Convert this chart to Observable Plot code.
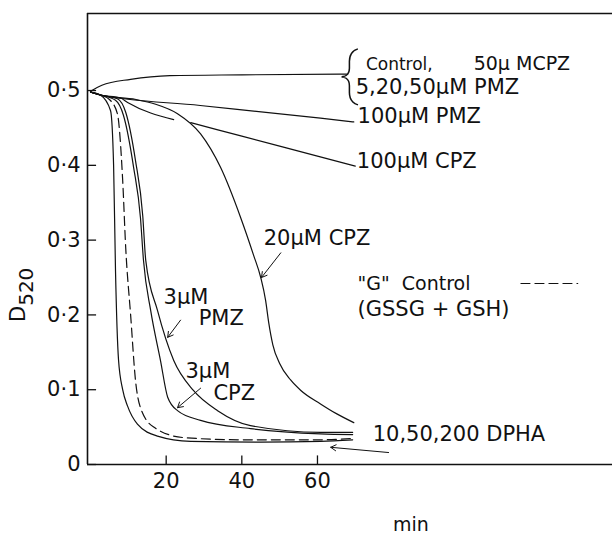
<!DOCTYPE html>
<html>
<head>
<meta charset="utf-8">
<script src="https://cdn.jsdelivr.net/npm/d3@7"></script>
<script src="https://cdn.jsdelivr.net/npm/@observablehq/plot@0.6"></script>
<style>
  html, body { margin: 0; padding: 0; background: #fff; }
</style>
</head>
<body>
<div id="chart"></div>
<script>
// ---- tick values / labels ----
const xTicks = [20, 40, 60];
const yTicks = [0, 0.1, 0.2, 0.3, 0.4, 0.5];
const yTickLabels = ["0", "0·1", "0·2", "0·3", "0·4", "0·5"];

// ---- series (time in min, D520) ----
const controlMCPZ = [[0,0.499],[3,0.507],[10.6,0.515],[21,0.52],[40,0.521],[68,0.522]];
const pmz100 = [[0,0.498],[2.6,0.494],[29,0.48],[60.8,0.463],[69.6,0.458]];
const cpz100a = [[0,0.498],[2.6,0.494],[7.9,0.49],[9.8,0.484],[22,0.461]];
const cpz100b = [[26.5,0.457],[40,0.439],[61,0.411],[70,0.399]];
const cpz20 = [[0,0.498],[2.6,0.494],[12,0.488],[17,0.482],[23,0.469],[29.1,0.442],[34.4,0.397],[39.7,0.33],[43.1,0.28],[45,0.25],[46.3,0.219],[47.1,0.19],[48.2,0.16],[50,0.135],[52.9,0.113],[55.6,0.099],[60.8,0.081],[65,0.068],[69.6,0.056]];
const pmz3 = [[0,0.498],[2.6,0.494],[7.1,0.489],[9.3,0.471],[11.9,0.406],[13.8,0.333],[14.6,0.273],[17.7,0.206],[22,0.139],[27.2,0.099],[33.6,0.072],[42.3,0.052],[60.8,0.043],[69.3,0.043]];
const cpz3 = [[0,0.498],[2.6,0.494],[6.6,0.487],[8.7,0.467],[11.4,0.397],[13.2,0.33],[14,0.273],[15.9,0.206],[18.5,0.139],[20.4,0.09],[23,0.072],[29.1,0.059],[42.3,0.048],[60.8,0.041],[69.3,0.04]];
const gControl = [[0,0.498],[2.6,0.494],[5,0.488],[7.1,0.469],[8.5,0.38],[9.3,0.29],[10.6,0.2],[11.9,0.112],[13.2,0.076],[16.7,0.05],[24.6,0.036],[40,0.033],[60.8,0.033],[69.3,0.035]];
const dpha = [[0,0.498],[2.6,0.494],[5.3,0.473],[6.1,0.4],[6.6,0.26],[7.4,0.14],[8.5,0.1],[9.8,0.078],[12.4,0.054],[17.7,0.038],[26.5,0.031],[45,0.03],[60.8,0.031],[69.3,0.033]];

const solidSeries = {controlMCPZ, pmz100, cpz100a, cpz100b, cpz20, pmz3, cpz3, dpha};
const dashedSeries = {gControl};

// ---- annotation labels ----
const labelText = ["Control,", "50μ MCPZ", "5,20,50μM PMZ", "100μM PMZ", "100μM CPZ", "20μM CPZ",
  "\"G\"  Control", "(GSSG + GSH)", "3μM", "PMZ", "3μM", "CPZ", "10,50,200 DPHA"];
const labelX = [72.8, 101.3, 70.1, 70.6, 70.4, 45.8, 70.6, 70.6, 19.3, 28.6, 25.1, 32.5, 74.6];
const labelY = [0.527, 0.527, 0.496, 0.457, 0.397, 0.293, 0.233, 0.198, 0.215, 0.186, 0.115, 0.086, 0.032];
const labelSize = [17, 19, 21, 21, 21, 21, 19, 21, 21, 21, 21, 21, 21];

// arrows [x1, y1, x2, y2]
const arrowsData = [[50.3,0.283,45.2,0.25],[23.8,0.193,20.4,0.17],[29.1,0.102,23.0,0.076],[78.8,0.016,63.5,0.023]];
const dashSample = [[113.8,0.242],[128.8,0.242]];
const braceAt = [68.3, 0.521];

const xDomain = [-0.8, 138];
const yDomain = [0, 0.603];

function rows(obj) {
  const out = [];
  for (const [k, pts] of Object.entries(obj)) for (const [x, y] of pts) out.push({series: k, x, y});
  return out;
}
const solidRows = rows(solidSeries);
const dashedRows = rows(dashedSeries);
const labels = labelText.map((t, i) => ({t, x: labelX[i], y: labelY[i], s: labelSize[i]}));
const arrows = arrowsData.map(([x1, y1, x2, y2]) => ({x1, y1, x2, y2}));

const plot = Plot.plot({
  width: 612,
  height: 535,
  marginLeft: 87,
  marginRight: 0,
  marginTop: 13,
  marginBottom: 71,
  style: {fontFamily: "DejaVu Sans", fontSize: "21px", color: "#111", background: "#fff"},
  x: {domain: xDomain},
  y: {domain: yDomain},
  marks: [
    Plot.ruleY([yDomain[1]], {stroke: "#111", strokeWidth: 1.4}),
    Plot.ruleY([0], {stroke: "#111", strokeWidth: 1.6}),
    Plot.ruleX([xDomain[0]], {stroke: "#111", strokeWidth: 1.6}),
    // inward tick marks
    Plot.ruleX(xTicks, {y1: 0, y2: 0.0115, stroke: "#111", strokeWidth: 1.3}),
    Plot.ruleY(yTicks, {x1: xDomain[0], x2: xDomain[0] + 2.4, stroke: "#111", strokeWidth: 1.3}),
    Plot.axisX({ticks: xTicks, tickSize: 0, tickPadding: 9, label: null, fontSize: 21}),
    Plot.axisY({ticks: yTicks, tickFormat: d => yTickLabels[yTicks.indexOf(d)], tickSize: 0, tickPadding: 7, label: null, fontSize: 21}),
    Plot.line(solidRows, {x: "x", y: "y", z: "series", stroke: "#111", strokeWidth: 1.2, curve: "monotone-x"}),
    Plot.line(dashedRows, {x: "x", y: "y", z: "series", stroke: "#111", strokeWidth: 1.2, strokeDasharray: "9,5", curve: "monotone-x"}),
    Plot.line(dashSample, {x: d => d[0], y: d => d[1], stroke: "#111", strokeWidth: 1.2, strokeDasharray: "9,5"}),
    Plot.arrow(arrows, {x1: "x1", y1: "y1", x2: "x2", y2: "y2", stroke: "#111", strokeWidth: 1, headLength: 9}),
    Plot.text(labels, {x: "x", y: "y", text: "t", fontSize: "s", textAnchor: "start", lineAnchor: "bottom", fill: "#111"}),
    Plot.text([braceAt], {x: d => d[0], y: d => d[1], text: () => "{", fontSize: 58, fontFamily: "Roboto", fontWeight: 100, textAnchor: "middle", lineAnchor: "middle", fill: "#111"}),
    Plot.text(["min"], {x: () => 84.7, frameAnchor: "bottom", dy: 66, text: d => d, fontSize: 19, fill: "#111"})
  ]
});

// y-axis title D520 with subscript
const svg = d3.select(plot);
const t = svg.append("text")
  .attr("transform", "translate(25,322) rotate(-90)")
  .attr("font-family", "DejaVu Sans")
  .attr("font-size", 21)
  .attr("fill", "#111")
  .attr("text-anchor", "start");
t.append("tspan").text("D");
t.append("tspan").attr("dy", 8).attr("font-size", 20).text("520");

document.getElementById("chart").appendChild(plot);
</script>
</body>
</html>
